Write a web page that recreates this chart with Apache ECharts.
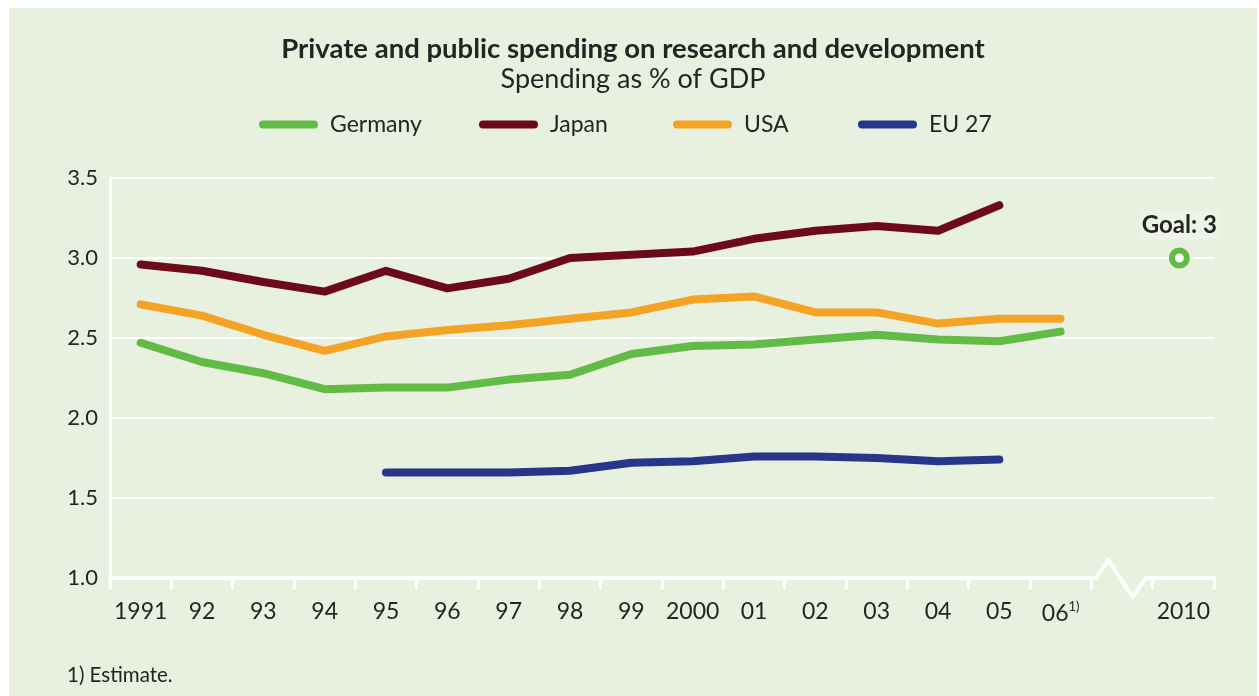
<!DOCTYPE html>
<html>
<head>
<meta charset="utf-8">
<script src="https://cdn.jsdelivr.net/npm/echarts@6/dist/echarts.min.js"></script>
<style>
  html, body { margin: 0; padding: 0; background: #ffffff; }
  #panel { position: absolute; left: 9px; top: 8px; width: 1248px; height: 688px; background: #e8f1df; }
  #chart { position: absolute; left: 0; top: 0; width: 1259px; height: 696px; }
</style>
</head>
<body>
<div id="panel"></div>
<div id="chart"></div>
<script>
// Years on the x axis; the empty slot marks the axis break before 2010
const years = ['1991', '92', '93', '94', '95', '96', '97', '98', '99', '2000', '01', '02', '03', '04', '05', '06', '', '2010'];
const estimatedYear = '06';
const breakIndex = 16;

// R&D spending as % of GDP
const germany = [2.47, 2.35, 2.28, 2.18, 2.19, 2.19, 2.24, 2.27, 2.40, 2.45, 2.46, 2.49, 2.52, 2.49, 2.48, 2.54, null, null];
const japan   = [2.96, 2.92, 2.85, 2.79, 2.92, 2.81, 2.87, 3.00, 3.02, 3.04, 3.12, 3.17, 3.20, 3.17, 3.33, null, null, null];
const usa     = [2.71, 2.64, 2.52, 2.42, 2.51, 2.55, 2.58, 2.62, 2.66, 2.74, 2.76, 2.66, 2.66, 2.59, 2.62, 2.62, null, null];
const eu27    = [null, null, null, null, 1.66, 1.66, 1.66, 1.67, 1.72, 1.73, 1.76, 1.76, 1.75, 1.73, 1.74, null, null, null];
const goal    = [null, null, null, null, null, null, null, null, null, null, null, null, null, null, null, null, null, 3];

const yTicks = { min: 1.0, max: 3.5, interval: 0.5 };

const FONT = 'Lato';
const INK = '#262324';
const BG = '#e8f1df';
const GREEN = '#62bb46', MAROON = '#6c0a1b', ORANGE = '#f5a324', NAVY = '#27358b';

const chart = echarts.init(document.getElementById('chart'), null, { renderer: 'canvas' });

const legendIcon = 'path://M4 0H55A4 4 0 0 1 55 8H4A4 4 0 0 1 4 0Z';
function legendAt(name, left) {
  return {
    data: [name], left: left, top: 113, padding: 0,
    icon: legendIcon, itemWidth: 59, itemHeight: 8,
    textStyle: { fontFamily: FONT, fontSize: 23, color: INK, padding: [0, 0, 0, 7] },
    selectedMode: false
  };
}

function lineSeries(name, data, color) {
  return {
    name: name, type: 'line', data: data, color: color,
    showSymbol: false, symbol: 'none', connectNulls: false,
    lineStyle: { width: 8, color: color, cap: 'round', join: 'round' },
    emphasis: { disabled: true }, z: 3
  };
}

chart.setOption({
  backgroundColor: 'transparent',
  animation: false,
  textStyle: { fontFamily: FONT, color: INK },
  title: {
    text: 'Private and public spending on research and development',
    subtext: 'Spending as % of GDP',
    left: 628, top: 30, textAlign: 'center', itemGap: 3,
    textStyle: { fontFamily: FONT, fontWeight: 'bold', fontSize: 27.5, color: INK },
    subtextStyle: { fontFamily: FONT, fontSize: 27, color: INK }
  },
  legend: [
    legendAt('Germany', 259),
    legendAt('Japan', 479),
    legendAt('USA', 673),
    legendAt('EU 27', 858)
  ],
  grid: { left: 110, right: 45, top: 178, bottom: 118, containLabel: false },
  xAxis: {
    type: 'category', data: years, boundaryGap: true,
    axisLine: { show: true, lineStyle: { color: '#ffffff', width: 4 } },
    axisTick: { show: true, length: 11, lineStyle: { color: '#ffffff', width: 3 } },
    axisLabel: {
      fontFamily: FONT, fontSize: 23, color: INK, margin: 22, interval: 0,
      formatter: v => v === estimatedYear ? v + '{sup|1)}' : v,
      rich: { sup: { fontFamily: FONT, fontSize: 13, color: INK, padding: [0, 0, 14, 0] } }
    },
    splitLine: { show: false }
  },
  yAxis: {
    type: 'value', min: yTicks.min, max: yTicks.max, interval: yTicks.interval,
    axisLine: { show: true, lineStyle: { color: '#ffffff', width: 3 } },
    axisTick: { show: false },
    axisLabel: { fontFamily: FONT, fontSize: 22, color: INK, margin: 12, formatter: v => v.toFixed(1) },
    splitLine: { show: true, lineStyle: { color: '#ffffff', width: 2 } }
  },
  series: [
    lineSeries('Germany', germany, GREEN),
    lineSeries('Japan', japan, MAROON),
    lineSeries('USA', usa, ORANGE),
    lineSeries('EU 27', eu27, NAVY),
    {
      name: 'Goal', type: 'line', data: goal, z: 4,
      symbol: 'circle', symbolSize: 15, showSymbol: true, symbolOffset: [-4, 0],
      lineStyle: { width: 0 },
      itemStyle: { color: '#ffffff', borderColor: GREEN, borderWidth: 6 },
      label: {
        show: true, position: 'top', distance: 8,
        formatter: p => 'Goal: ' + p.value,
        fontFamily: FONT, fontWeight: 'bold', fontSize: 24, color: INK,
        backgroundColor: '#edf4e7', padding: [3, 2, 2, 2]
      },
      emphasis: { disabled: true }
    }
  ]
});

// Axis break: blank out the baseline at the skipped slot and draw a zigzag
const cx = chart.convertToPixel({ xAxisIndex: 0 }, breakIndex);
const y0 = chart.convertToPixel({ yAxisIndex: 0 }, yTicks.min);
chart.setOption({
  graphic: [
    { type: 'rect', z: 100, silent: true,
      shape: { x: cx - 28, y: y0 - 4, width: 55, height: 8 }, style: { fill: BG } },
    { type: 'polyline', z: 101, silent: true,
      shape: { points: [[cx - 30, y0], [cx - 26, y0], [cx - 13.5, y0 - 18], [cx + 10.5, y0 + 19], [cx + 24, y0], [cx + 30, y0]] },
      style: { stroke: '#ffffff', lineWidth: 4, fill: null, lineJoin: 'miter' } },
    { type: 'text', z: 100, silent: true, left: 67, top: 665,
      style: { text: '1) Estimate.', fontFamily: FONT, fontSize: 20.5, fill: INK } }
  ]
});
</script>
</body>
</html>
